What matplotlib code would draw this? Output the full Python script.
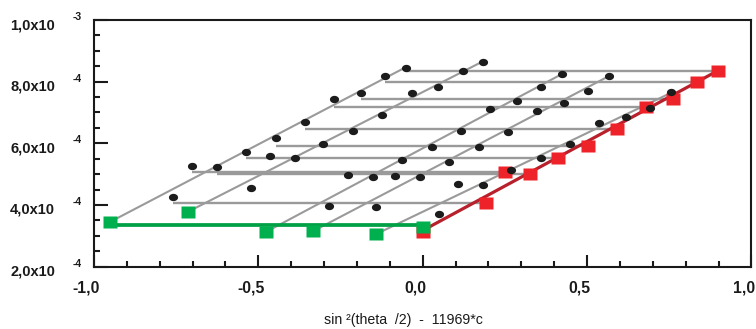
import matplotlib
matplotlib.use("Agg")
import matplotlib.pyplot as plt
import numpy as np
from matplotlib.ticker import MultipleLocator, FixedLocator, NullFormatter
from matplotlib.path import Path
from matplotlib.transforms import ScaledTranslation

plt.rcParams['font.family'] = ['Liberation Sans', 'DejaVu Sans']

# ---------------- data ----------------
k_factor = 11969
# sin^2(theta/2) for the 10 angles
sin2 = [0.1916, 0.2494, 0.3254, 0.4115, 0.5027, 0.5909, 0.6804, 0.7612, 0.8355, 0.8981]
# concentrations (g/mL)
conc = [7.937e-5, 5.965e-5, 3.977e-5, 2.782e-5, 1.200e-5]

# Kc/R values (x1e-4), rows = concentration, columns = angle
kcr_c1 = [4.247, 5.263, 5.221, 5.727, 6.162, 6.701, 7.429, 7.643, 8.185, 8.455]
kcr_c2 = [4.539, 5.597, 5.513, 5.977, 6.409, 6.919, 7.623, 7.838, 8.347, 8.649]
kcr_c3 = [3.964, 4.971, 4.916, 5.458, 5.890, 6.409, 7.114, 7.383, 7.818, 8.240]
kcr_c4 = [3.922, 4.938, 4.896, 5.403, 5.870, 6.351, 7.049, 7.299, 7.708, 8.185]
kcr_c5 = [3.705, 4.669, 4.646, 5.123, 5.532, 5.968, 6.649, 6.844, 7.156, 7.656]

# extrapolation to c = 0 (red squares), one per angle, plus the double extrapolation
zero_conc_y = [4.052, 5.078, 4.994, 5.513, 5.922, 6.474, 7.188, 7.429, 7.990, 8.347]
zero_conc_y0 = 3.123
# extrapolation to theta = 0 (green squares), one per concentration, plus the double extrapolation
zero_angle_y = [3.455, 3.779, 3.130, 3.153, 3.045]
zero_angle_y0 = 3.295
# slopes of the constant-concentration fits (x1e-4 per unit of sin^2)
conc_slopes = [5.58, 5.44, 5.69, 5.59, 5.11]
# fit of the c = 0 line (intercept, slope) and of the theta = 0 line (level)
red_fit = (3.172, 5.775)
green_level = 3.334

ytick_vals = [2e-4, 4e-4, 6e-4, 8e-4, 1e-3]
ytick_mant = ['2,0x10', '4,0x10', '6,0x10', '8,0x10', '1,0x10']
ytick_exp = ['-4', '-4', '-4', '-4', '-3']
xtick_vals = [-1.0, -0.5, 0.0, 0.5, 1.0]
xtick_labels = ['-1,0', '-0,5', '0,0', '0,5', '1,0']
xlabel_text = 'sin \u00b2(theta  /2)  -  11969*c'

# ---------------- drawing ----------------
S = 1e-4
sin2 = np.array(sin2)
kc = k_factor * np.array(conc)
kcr = np.array([kcr_c1, kcr_c2, kcr_c3, kcr_c4, kcr_c5]) * S
zc = np.array(zero_conc_y) * S
za = np.array(zero_angle_y) * S

W, H = 756, 329
fig = plt.figure(figsize=(W / 100, H / 100), dpi=100)
x0, x1, ytop, ybot = 94, 751.5, 20, 266.6
ax = fig.add_axes([x0 / W, 1 - ybot / H, (x1 - x0) / W, (ybot - ytop) / H])

grey = '#9a9a9a'
# constant-angle lines (horizontal)
for i in range(len(sin2)):
    ax.plot([sin2[i] - kc.max(), sin2[i]], [zc[i], zc[i]], color=grey, lw=1.7,
            solid_capstyle='butt', zorder=2)
# constant-concentration lines
for j in range(len(kc)):
    xs = np.array([-kc[j], sin2.max() - kc[j]])
    ys = za[j] + conc_slopes[j] * S * (xs + kc[j])
    ax.plot(xs, ys, color=grey, lw=1.5, solid_capstyle='butt', zorder=2)

# theta = 0 line
ax.plot([-kc.max(), 0], [green_level * S, green_level * S], color='#00a045', lw=2.7,
        solid_capstyle='butt', zorder=3)
# c = 0 line
xr = np.array([0, sin2.max()])
ax.plot(xr, (red_fit[0] + red_fit[1] * xr) * S, color='#b8202c', lw=2.3,
        solid_capstyle='butt', zorder=3)

rect = Path([(-1, -0.85), (1, -0.85), (1, 0.85), (-1, 0.85), (-1, -0.85)],
            [Path.MOVETO, Path.LINETO, Path.LINETO, Path.LINETO, Path.CLOSEPOLY])
t = np.linspace(0, 2 * np.pi, 40)
ellipse = Path(np.column_stack([np.cos(t), 0.8 * np.sin(t)]))

# red squares
ax.plot(np.concatenate([[0], sin2]), np.concatenate([[zero_conc_y0 * S], zc]),
        ls='none', marker=rect, ms=10, color='#ee2229', mec='none', zorder=4)
# data points
for j in range(len(kc)):
    ax.plot(sin2 - kc[j], kcr[j], ls='none', marker=ellipse, ms=6.6, color='#1c1c1c',
            mec='none', zorder=5)
# green squares
ax.plot(np.concatenate([-kc, [0]]), np.concatenate([za, [zero_angle_y0 * S]]),
        ls='none', marker=rect, ms=10, color='#00b04f', mec='none', zorder=6)

ax.set_xlim(-1, 1)
ax.set_ylim(2e-4, 1e-3)

for s in ax.spines.values():
    s.set_linewidth(1.5)
    s.set_color('#1a1a1a')

ax.xaxis.set_major_locator(FixedLocator(xtick_vals))
ax.xaxis.set_minor_locator(MultipleLocator(0.1))
ax.yaxis.set_major_locator(FixedLocator(ytick_vals))
ax.yaxis.set_minor_locator(MultipleLocator(0.5e-4))
ax.set_xticklabels(xtick_labels, fontsize=11.3, fontweight='bold', color='#1a1a1a')
ax.yaxis.set_major_formatter(NullFormatter())
ax.tick_params(axis='both', which='both', direction='in', top=False, right=False,
               width=1.5, color='#1a1a1a')
ax.tick_params(axis='x', which='major', length=8.5, pad=10)
ax.tick_params(axis='y', which='major', length=10)
ax.tick_params(axis='both', which='minor', length=4)

shift = ScaledTranslation(-7.5 / 100, 0, fig.dpi_scale_trans)
for lab in ax.get_xticklabels():
    lab.set_transform(lab.get_transform() + shift)

for v, m, e in zip(ytick_vals, ytick_mant, ytick_exp):
    ax.annotate(m, xy=(0, v), xycoords=('axes fraction', 'data'), xytext=(-28, -6.5),
                textcoords='offset points', ha='right', va='baseline', fontsize=10.5,
                fontweight='bold', color='#1a1a1a')
    ax.annotate(e, xy=(0, v), xycoords=('axes fraction', 'data'), xytext=(-15.5, 0),
                textcoords='offset points', ha='left', va='baseline', fontsize=7.5,
                fontweight='bold', color='#1a1a1a')

fig.text(403 / W, 1 - 320 / H, xlabel_text, ha='center', va='center', fontsize=10.2,
         color='#1a1a1a')

fig.savefig('out.png', dpi=100)
